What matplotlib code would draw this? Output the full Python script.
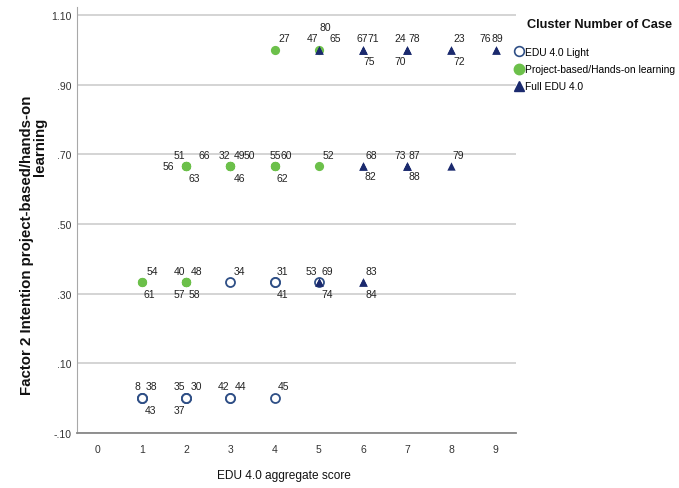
import matplotlib
matplotlib.use("Agg")
import matplotlib.pyplot as plt
from matplotlib.lines import Line2D

# ── data: one entry per case ──
case_id = [8, 38, 43, 35, 30, 37, 42, 44, 45, 34, 31, 41, 53,
           54, 61, 40, 48, 57, 58, 51, 56, 66, 63, 32, 49, 50, 46, 55, 60, 62, 52, 27, 47,
           80, 65, 67, 71, 75, 24, 78, 70, 23, 72, 76, 89, 68, 82, 73, 87, 88, 79, 69, 74, 83, 84]
edu_score = [1, 1, 1, 2, 2, 2, 3, 3, 4, 3, 4, 4, 5,
             1, 1, 2, 2, 2, 2, 2, 2, 2, 2, 3, 3, 3, 3, 4, 4, 4, 5, 4, 5,
             5, 5, 6, 6, 6, 7, 7, 7, 8, 8, 9, 9, 6, 6, 7, 7, 7, 8, 5, 5, 6, 6]
factor2 = [0, 0, 0, 0, 0, 0, 0, 0, 0, 1/3, 1/3, 1/3, 1/3,
           1/3, 1/3, 1/3, 1/3, 1/3, 1/3, 2/3, 2/3, 2/3, 2/3, 2/3, 2/3, 2/3, 2/3, 2/3, 2/3, 2/3, 2/3, 1, 1,
           1, 1, 1, 1, 1, 1, 1, 1, 1, 1, 1, 1, 2/3, 2/3, 2/3, 2/3, 2/3, 2/3, 1/3, 1/3, 1/3, 1/3]
cluster = [1] * 13 + [2] * 20 + [3] * 22

cluster_names = ["EDU 4.0 Light", "Project-based/Hands-on learning", "Full EDU 4.0"]
x_ticks = [0, 1, 2, 3, 4, 5, 6, 7, 8, 9]
y_ticks = [-0.10, 0.10, 0.30, 0.50, 0.70, 0.90, 1.10]
y_tick_labels = ["-.10", ".10", ".30", ".50", ".70", ".90", "1.10"]

# label placement (pixels: left edge of text from point, vertical offset up)
lab_dx = [-7.5, 4, 2.5, -13, 4, -13, -13, 4, 3.5, 3.5, 2, 2, -13.5,
          4, 1.5, -13, 4, -13, 2, -13, -24, 12, 2, -12, 3, 13.5, 3, -5, 5.5, 2, 3.5, 3.5, -12,
          0.5, 10.5, -7, 4, 0, -13, 1, -13, 1.5, 1.5, -16, -4.5, 2, 1.5, -13, 1, 1, 1, 2.5, 2.5, 2, 2]
lab_dy = [12, 12, -12, 12, 12, -12, 12, 12, 12, 11, 11, -12, 11,
          11, -12, 11, 11, -12, -12, 11, 0, 11, -12, 11, 11, 11, -12, 11, 11, -12, 11, 12, 12,
          23, 12, 12, 12, -11, 12, 12, -11, 12, -11, 12, 12, 11, -10, 11, 11, -10, 11, 11, -12, 11, -12]

plt.rcParams["font.family"] = ["Liberation Sans", "DejaVu Sans"]

styles = {
    1: dict(marker="o", s=42, facecolors="white", edgecolors="#2f4f86", linewidths=1.3, zorder=3),
    2: dict(marker="o", s=44, color="#6cc04a", linewidths=0, zorder=4),
    3: dict(marker="^", s=36, color="#1b2a6e", linewidths=0, zorder=5),
}

fig = plt.figure(figsize=(6.79, 4.89), dpi=100)
ax = fig.add_axes([76.7 / 679, 1 - 434 / 489, (516 - 76.7) / 679, (434 - 8) / 489])

for c in (1, 2, 3):
    xs = [x for x, k in zip(edu_score, cluster) if k == c]
    ys = [y for y, k in zip(factor2, cluster) if k == c]
    ax.scatter(xs, ys, label=cluster_names[c - 1], **styles[c])

PX = 0.72  # pixel -> point at 100 dpi
for cid, x, y, dx, dy in zip(case_id, edu_score, factor2, lab_dx, lab_dy):
    ax.annotate(str(cid), (x, y), xytext=(dx * PX, dy * PX), textcoords="offset points",
                ha="left", va="center", fontsize=7.5, color="#222222")

ax.set_xlim(-0.48, 9.46)
ax.set_ylim(-0.10, 1.123)
ax.set_xticks(x_ticks)
ax.set_yticks(y_ticks)
ax.set_yticklabels(y_tick_labels)
ax.tick_params(axis="both", length=0, labelsize=7.5, colors="#333333")
ax.tick_params(axis="x", pad=8)
ax.tick_params(axis="y", pad=4)
ax.yaxis.grid(True, color="#d4d4d4", linewidth=1.4)
ax.set_axisbelow(True)
for side in ("top", "right"):
    ax.spines[side].set_visible(False)
ax.spines["left"].set_color("#a8a8a8")
ax.spines["bottom"].set_color("#888888")
ax.spines["bottom"].set_linewidth(1.3)

# axis titles
fig.text(284 / 679, 1 - 476 / 489, "EDU 4.0 aggregate score", ha="center", va="center",
         fontsize=8.6, color="#111111")
fig.text(27 / 679, 1 - 395 / 489, "Factor 2 Intention project-based/hands-on", rotation=90,
         rotation_mode="anchor", ha="left", va="center", fontsize=10.8, fontweight="bold",
         color="#111111")
fig.text(40 / 679, 1 - 147 / 489, "learning", rotation=90, rotation_mode="anchor",
         ha="center", va="center", fontsize=10.8, fontweight="bold", color="#111111")

# legend
fig.text(527 / 679, 1 - 25 / 489, "Cluster Number of Case", ha="left", va="center",
         fontsize=9.2, fontweight="bold", color="#111111")
handles = [
    Line2D([], [], linestyle="", marker="o", markersize=7, markerfacecolor="white",
           markeredgecolor="#2f4f86", markeredgewidth=1.2),
    Line2D([], [], linestyle="", marker="o", markersize=7.5, color="#6cc04a"),
    Line2D([], [], linestyle="", marker="^", markersize=7, color="#1b2a6e"),
]
leg = fig.legend(handles, cluster_names, loc="upper left", bbox_to_anchor=(515 / 679, 1 - 48 / 489),
                 frameon=False, fontsize=7.4, handlelength=0.8, handletextpad=0.15,
                 labelspacing=0.7, borderpad=0, borderaxespad=0)

plt.savefig("out.png", dpi=100)
plt.close()
